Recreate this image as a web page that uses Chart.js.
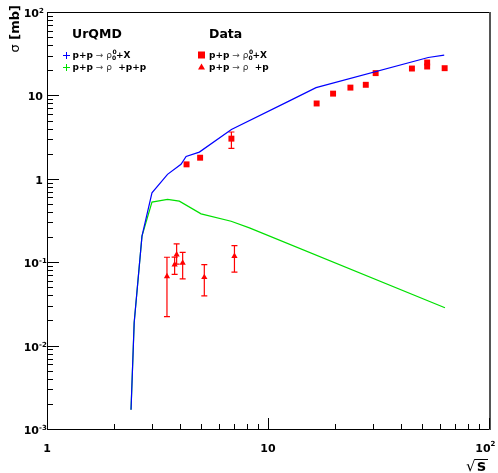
<!DOCTYPE html>
<html><head><meta charset="utf-8">
<script src="https://cdn.jsdelivr.net/npm/chart.js@4"></script>
<style>html,body{margin:0;padding:0;background:#fff}canvas{display:block}</style>
</head><body>
<canvas id="c" width="498" height="473" style="width:498px;height:473px"></canvas>
<script>
// ---- data ----
const urqmdRhoX_x = [2.40, 2.48, 2.69, 2.985, 3.51, 4.04, 4.26, 4.89, 6.83, 12.5, 16.5, 53.1, 62.7];
const urqmdRhoX_y = [0.0017, 0.0188, 0.205, 0.68, 1.13, 1.49, 1.85, 2.09, 3.9, 8.6, 12.4, 28.5, 30.4];

const urqmdExcl_x = [2.40, 2.48, 2.69, 2.985, 3.51, 3.97, 4.98, 6.81, 8.24, 63.2];
const urqmdExcl_y = [0.0017, 0.0188, 0.205, 0.525, 0.565, 0.54, 0.38, 0.31, 0.258, 0.0284];

const dataRhoX_x  = [4.28, 4.93, 6.83, 16.6, 19.7, 23.6, 27.7, 30.7, 44.8, 52.5, 52.5, 63.0];
const dataRhoX_y  = [1.49, 1.79, 3.03, 8.0, 10.5, 12.4, 13.4, 18.5, 21.0, 24.8, 22.2, 21.2];
const dataRhoX_lo = [null, null, 2.32, null, null, null, null, null, null, null, null, null];
const dataRhoX_hi = [null, null, 3.64, null, null, null, null, null, null, null, null, null];

const dataExcl_x  = [3.49, 3.78, 3.86, 4.11, 5.15, 7.05];
const dataExcl_y  = [0.0677, 0.0935, 0.123, 0.098, 0.066, 0.118];
const dataExcl_lo = [0.0222, 0.0713, 0.095, 0.063, 0.0394, 0.076];
const dataExcl_hi = [0.1146, 0.115, 0.166, 0.1315, 0.0935, 0.158];

const xTickValues = [1, 10, 100];
const xTickLabels = [['1', ''], ['10', ''], ['10', '2']];
const yTickValues = [0.001, 0.01, 0.1, 1, 10, 100];
const yTickLabels = [['10', '-3'], ['10', '-2'], ['10', '-1'], ['1', ''], ['10', ''], ['10', '2']];
const minorSteps = [2, 3, 4, 5, 6, 7, 8, 9];

const xTitle = 's';
const yTitleSymbol = 'σ';
const yTitleUnit = ' [mb]';
const legendHeadModel = 'UrQMD';
const legendHeadData = 'Data';

// ---- helpers ----
const F = 'DejaVu Sans';
function pts(xs, ys) { return xs.map((x, i) => ({x: x, y: ys[i]})); }
function rich(ctx, x, y, segs) {
  let cx = x;
  for (const s of segs) {
    ctx.font = s.f; ctx.fillStyle = s.c || '#000';
    ctx.fillText(s.t, cx + (s.dx || 0), y + (s.dy || 0));
    if (!s.na) cx += ctx.measureText(s.t).width + (s.gap || 0);
  }
  return cx;
}
function richWidth(ctx, segs) {
  let w = 0;
  for (const s of segs) { ctx.font = s.f; if (!s.na) w += ctx.measureText(s.t).width + (s.gap || 0); }
  return w;
}

const decor = {
  id: 'decor',
  beforeDatasetsDraw(chart) {
    const ctx = chart.ctx, xs = chart.scales.x, ys = chart.scales.y;
    ctx.save();
    ctx.strokeStyle = '#ff0000'; ctx.lineWidth = 1.2;
    const bars = (X, Lo, Hi) => {
      X.forEach((x, i) => {
        if (Lo[i] == null) return;
        const px = xs.getPixelForValue(x);
        const pl = ys.getPixelForValue(Lo[i]);
        const ph = ys.getPixelForValue(Hi[i]);
        ctx.beginPath();
        ctx.moveTo(px, pl); ctx.lineTo(px, ph);
        ctx.moveTo(px - 3, pl); ctx.lineTo(px + 3, pl);
        ctx.moveTo(px - 3, ph); ctx.lineTo(px + 3, ph);
        ctx.stroke();
      });
    };
    bars(dataRhoX_x, dataRhoX_lo, dataRhoX_hi);
    bars(dataExcl_x, dataExcl_lo, dataExcl_hi);
    ctx.restore();
  },
  afterDraw(chart) {
    const ctx = chart.ctx, a = chart.chartArea, xs = chart.scales.x, ys = chart.scales.y;
    ctx.save();
    const L = Math.round(a.left), R = Math.round(a.right), T = Math.round(a.top), B = Math.round(a.bottom);
    // frame
    ctx.fillStyle = '#000';
    ctx.fillRect(L, T, R - L + 1, 1);
    ctx.fillRect(L, B, R - L + 1, 1);
    ctx.fillRect(L, T, 1, B - T + 1);
    ctx.fillStyle = '#555';
    ctx.fillRect(R, T, 2, B - T + 1);
    // ticks
    ctx.fillStyle = '#000';
    const xDecades = xTickValues.slice(0, -1);
    xTickValues.forEach(v => {
      const px = Math.round(xs.getPixelForValue(v));
      ctx.fillRect(px, B - 11, 1, 11);
    });
    xDecades.forEach(d => minorSteps.forEach(k => {
      const px = Math.round(xs.getPixelForValue(d * k));
      ctx.fillRect(px, B - 5, 1, 5);
    }));
    const yDecades = yTickValues.slice(0, -1);
    yTickValues.forEach(v => {
      const py = Math.round(ys.getPixelForValue(v));
      ctx.fillRect(L, py, 12, 1);
    });
    yDecades.forEach(d => minorSteps.forEach(k => {
      const py = Math.round(ys.getPixelForValue(d * k));
      ctx.fillRect(L, py, 6, 1);
    }));
    // tick labels
    ctx.textBaseline = 'alphabetic';
    const fMain = 'bold 11px "' + F + '"', fSup = 'bold 7px "' + F + '"';
    yTickValues.forEach((v, i) => {
      const py = ys.getPixelForValue(v);
      const [m, e] = yTickLabels[i];
      ctx.font = fMain; ctx.fillStyle = '#000';
      if (e) {
        ctx.textAlign = 'right'; ctx.fillText(m, a.left - 8, py + 5);
        ctx.font = fSup; ctx.textAlign = 'left'; ctx.fillText(e, a.left - 8, py + 1);
      } else {
        ctx.textAlign = 'right'; ctx.fillText(m, a.left - 4, py + 5);
      }
    });
    xTickValues.forEach((v, i) => {
      const px = xs.getPixelForValue(v);
      const [m, e] = xTickLabels[i];
      ctx.font = fMain; ctx.fillStyle = '#000';
      if (e) {
        ctx.textAlign = 'center'; ctx.fillText(m, px - 6, a.bottom + 23);
        ctx.font = fSup; ctx.textAlign = 'left'; ctx.fillText(e, px + 1.5, a.bottom + 17);
      } else {
        ctx.textAlign = 'center'; ctx.fillText(m, px, a.bottom + 23);
      }
    });
    ctx.textAlign = 'left';
    // x title sqrt(s)
    ctx.font = '15px "' + F + '"'; ctx.fillStyle = '#000';
    ctx.fillText('√', 466, 471);
    ctx.font = 'bold 15px "' + F + '"';
    ctx.fillText(xTitle, 477, 471);
    ctx.fillRect(475, 459, 13, 1);
    // y title
    ctx.save();
    ctx.translate(19, 5); ctx.rotate(-Math.PI / 2);
    const ySegs = [{t: yTitleSymbol, f: '13px "' + F + '"'}, {t: yTitleUnit, f: 'bold 13px "' + F + '"'}];
    rich(ctx, -richWidth(ctx, ySegs), 0, ySegs);
    ctx.restore();
    // legend
    ctx.fillStyle = '#000';
    ctx.font = 'bold 12.5px "' + F + '"';
    ctx.fillText(legendHeadModel, 72, 38);
    ctx.fillText(legendHeadData, 209, 38);
    const fb = 'bold 9px "' + F + '"', fn = '9px "' + F + '"', fs = 'bold 6px "' + F + '"';
    const arrow = {t: ' → ', f: fn, c: '#444'};
    const rhoX = [{t: 'p+p', f: fb}, arrow, {t: 'ρ', f: fn, c: '#333'},
      {t: '0', f: fs, dy: -4, na: true, dx: 0.5}, {t: '0', f: fs, dy: 2}, {t: '+X', f: fb}];
    const rhoP = (tail) => [{t: 'p+p', f: fb}, arrow, {t: 'ρ', f: fn, c: '#333'}, {t: '  ', f: fb}, {t: tail, f: fb}];
    rich(ctx, 72.5, 58, rhoX);
    rich(ctx, 72.5, 70, rhoP('+p+p'));
    rich(ctx, 209, 58, rhoX);
    rich(ctx, 209, 70, rhoP('+p'));
    // legend markers
    ctx.fillStyle = '#0000ff';
    ctx.fillRect(63, 55, 7, 1); ctx.fillRect(66, 52, 1, 7);
    ctx.fillStyle = '#00e000';
    ctx.fillRect(63, 67, 7, 1); ctx.fillRect(66, 64, 1, 7);
    ctx.fillStyle = '#ff0000';
    ctx.fillRect(198, 51.5, 7, 7);
    ctx.beginPath(); ctx.moveTo(201.5, 63.5); ctx.lineTo(205, 69.5); ctx.lineTo(198, 69.5); ctx.closePath(); ctx.fill();
    ctx.restore();
  }
};

new Chart(document.getElementById('c').getContext('2d'), {
  type: 'scatter',
  data: {
    datasets: [
      {type: 'line', data: pts(urqmdRhoX_x, urqmdRhoX_y), borderColor: '#0000ff', borderWidth: 1.2,
       pointRadius: 0, fill: false, tension: 0},
      {type: 'line', data: pts(urqmdExcl_x, urqmdExcl_y), borderColor: '#00e000', borderWidth: 1.2,
       pointRadius: 0, fill: false, tension: 0},
      {data: pts(dataRhoX_x, dataRhoX_y), pointStyle: 'rect', pointRadius: 4.2,
       backgroundColor: '#ff0000', borderColor: '#ff0000', borderWidth: 0},
      {data: pts(dataExcl_x, dataExcl_y), pointStyle: 'triangle', pointRadius: 3.6,
       backgroundColor: '#ff0000', borderColor: '#ff0000', borderWidth: 0}
    ]
  },
  options: {
    responsive: false, animation: false, devicePixelRatio: 1,
    layout: {padding: {left: 47, right: 9, top: 12, bottom: 44}},
    plugins: {legend: {display: false}, tooltip: {enabled: false}},
    scales: {
      x: {type: 'logarithmic', min: 1, max: 100, display: false},
      y: {type: 'logarithmic', min: 0.001, max: 100, display: false}
    }
  },
  plugins: [decor]
});
</script>
</body></html>
